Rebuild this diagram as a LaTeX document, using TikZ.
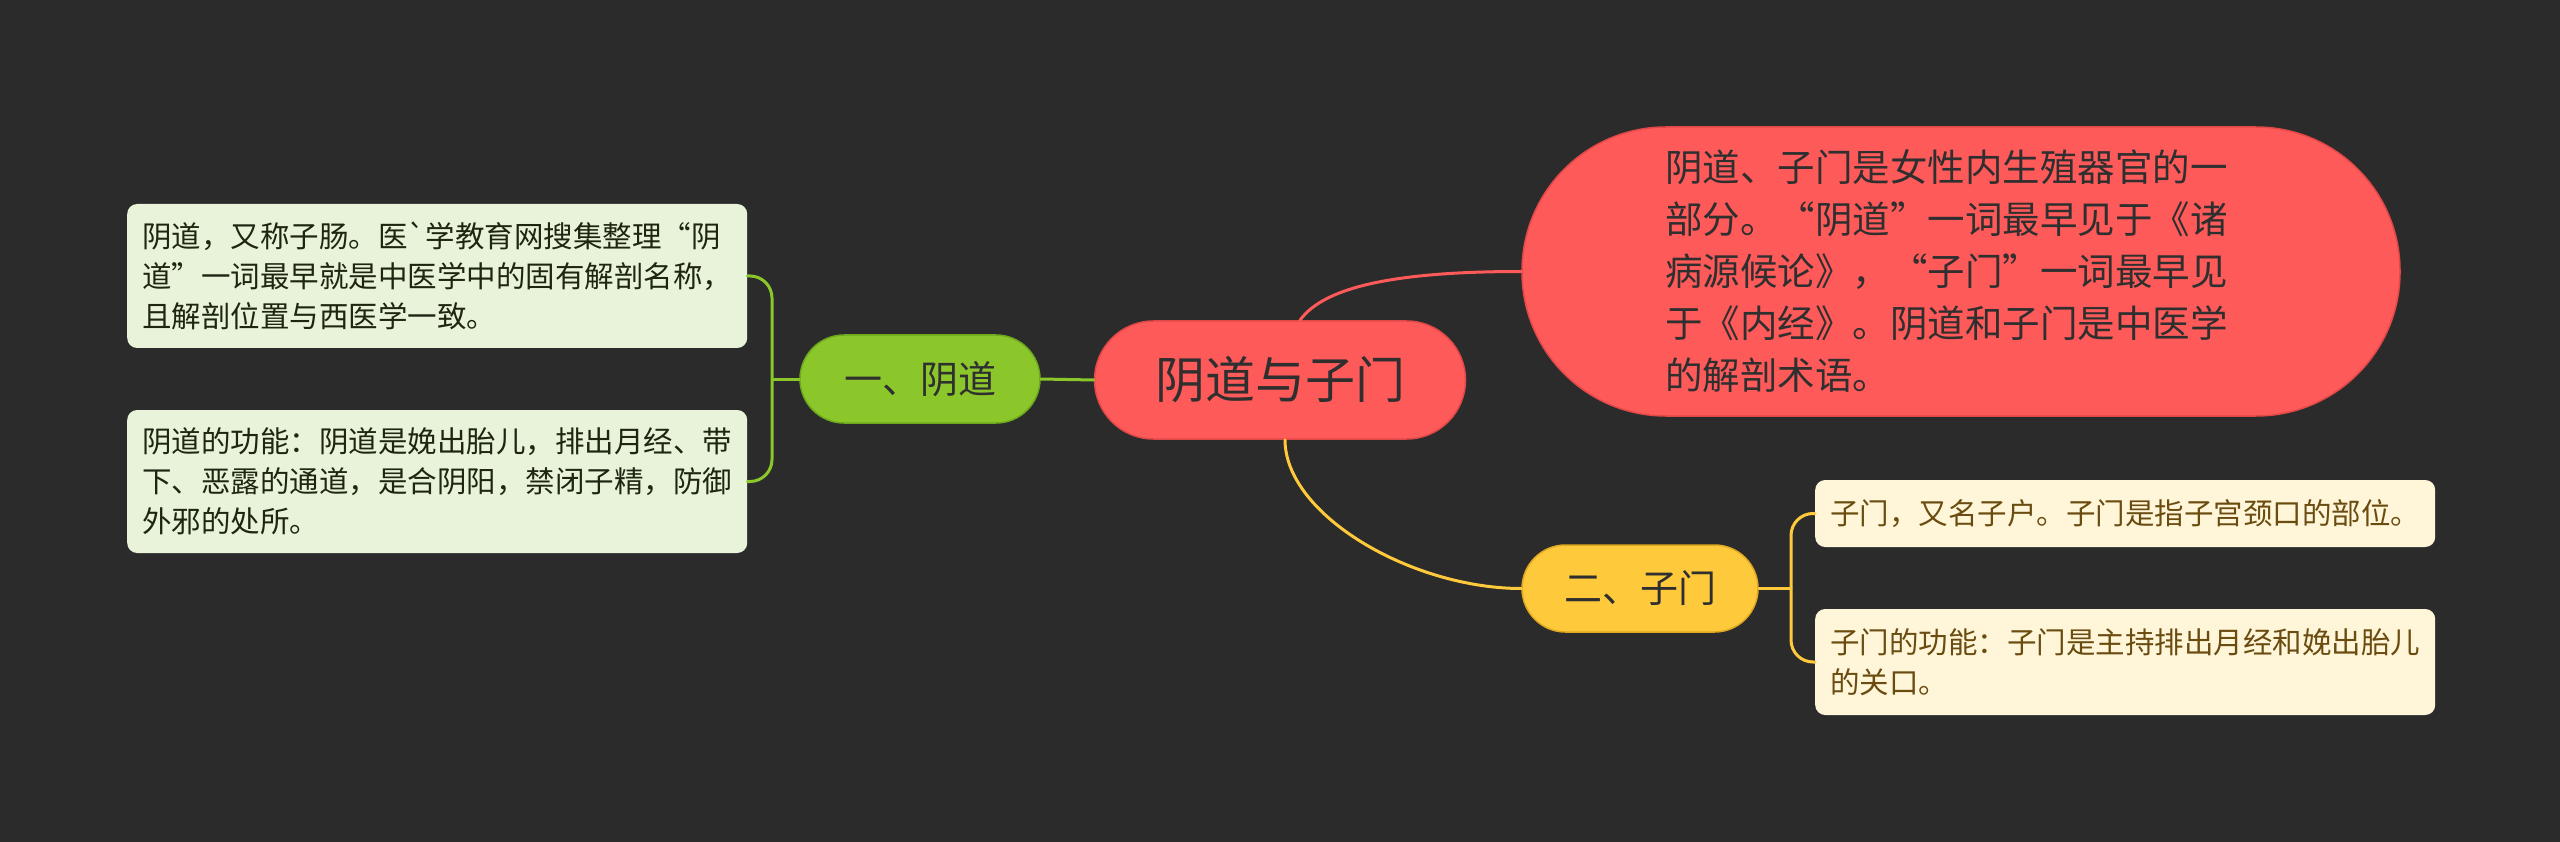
\documentclass[tikz,border=0pt]{standalone}
\usepackage{fontspec}
\setmainfont{Noto Sans CJK SC}
\newfontfamily\plainfont{Noto Sans CJK SC}
\usetikzlibrary{calc}
\definecolor{bg}{HTML}{2B2B2B}
\definecolor{cred}{HTML}{FF5A5A}
\definecolor{credb}{HTML}{E24848}
\definecolor{cgreen}{HTML}{8BC72B}
\definecolor{cgreenb}{HTML}{6EA81C}
\definecolor{cyellow}{HTML}{FFC93C}
\definecolor{cyellowb}{HTML}{E0A820}
\definecolor{lgreen}{HTML}{E8F3D9}
\definecolor{lcream}{HTML}{FFF6DA}
\definecolor{tdark}{HTML}{2F2F2F}
\definecolor{tgreen}{HTML}{1E2612}
\definecolor{tbrown}{HTML}{6B4C10}
\tikzset{
  pill/.style={rectangle, line width=1.5pt, text=tdark, inner sep=0pt},
  leaf/.style={rectangle, rounded corners=10pt, inner xsep=15pt, inner ysep=0pt,
    text width=590pt, align=left, minimum width=619pt, anchor=west,
    font=\fontsize{29.5}{40}\selectfont},
  conn/.style={line width=3pt, line cap=round}
}
\begin{document}
\begin{tikzpicture}[x=1pt,y=-1pt]
\fill[bg] (0,0) rectangle (2560,842);
\useasboundingbox (0,0) rectangle (2560,842);

% main topic
\node[pill, fill=cred, draw=credb, rounded corners=59pt, minimum width=371pt, minimum height=118pt,
  font=\fontsize{50}{60}\selectfont] (c) at (1280,380) {阴道与子门};

% summary bubble
\node[pill, fill=cred, draw=credb, rounded corners=144pt, minimum width=878pt, minimum height=289pt,
  text width=592pt, align=left, font=\fontsize{37.5}{52}\selectfont] (r) at (1961,271.5)
  {阴道、子门是女性内生殖器官的一\\部分。“阴道”一词最早见于《诸\\病源候论》，“子门”一词最早见\\于《内经》。阴道和子门是中医学\\的解剖术语。};

% branches
\node[pill, fill=cgreen, draw=cgreenb, rounded corners=44pt, minimum width=240pt, minimum height=88pt,
  font=\fontsize{38}{46}\selectfont] (g) at (920,379) {一、阴道};
\node[pill, fill=cyellow, draw=cyellowb, rounded corners=43.5pt, minimum width=236pt, minimum height=87pt,
  font=\fontsize{38}{46}\selectfont] (y) at (1640,588.5) {二、子门};

% leaves
\node[leaf, fill=lgreen, text=tgreen, minimum height=144pt] (l1) at (127,276)
  {阴道，又称子肠。医{\plainfont`}学教育网搜集整理“阴\\道”一词最早就是中医学中的固有解剖名称，\\且解剖位置与西医学一致。};
\node[leaf, fill=lgreen, text=tgreen, minimum height=143pt] (l2) at (127,481.5)
  {阴道的功能：阴道是娩出胎儿，排出月经、带\\下、恶露的通道，是合阴阳，禁闭子精，防御\\外邪的处所。};
\node[leaf, fill=lcream, text=tbrown, minimum height=67pt] (r1) at (1815,513.5)
  {子门，又名子户。子门是指子宫颈口的部位。};
\node[leaf, fill=lcream, text=tbrown, minimum height=106pt] (r2) at (1815,662)
  {子门的功能：子门是主持排出月经和娩出胎儿\\的关口。};

% connectors
\coordinate (gb) at (772,379);
\coordinate (yb) at (1791,588.5);
\draw[conn, cgreen] (c.west) -- (g.east);
\draw[conn, cgreen] (g.west) -- (gb);
\draw[conn, cgreen, rounded corners=22pt] (l1.east) -| (gb) |- (l2.east);

\draw[conn, cyellow] ([xshift=5pt]c.south) .. controls +(0,75) and +(-110,0) .. (y.west);
\draw[conn, cyellow] (y.east) -- (yb);
\draw[conn, cyellow, rounded corners=22pt] (r1.west) -| (yb) |- (r2.west);

\draw[conn, cred] ([xshift=20pt]c.north) .. controls +(25,-35) and +(-120,0) .. (r.west);
\end{tikzpicture}
\end{document}
